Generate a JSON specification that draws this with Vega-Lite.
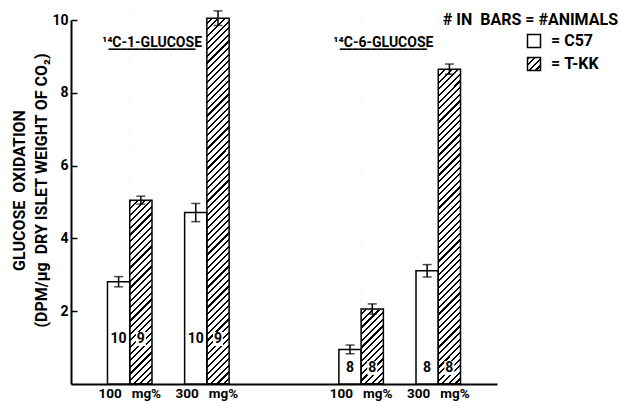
{
  "$schema": "https://vega.github.io/schema/vega-lite/v6.json",
  "width": 426,
  "height": 364,
  "autosize": {"type": "none"},
  "padding": {"left": 71, "top": 20, "right": 124, "bottom": 19},
  "background": "white",
  "params": [
    {"name": "legendHatch", "value": {"gradient": "linear", "x1": 0, "y1": 0, "x2": 1, "y2": 1, "stops": [
      {"offset":0,"color":"#000"},{"offset":0.085,"color":"#000"},{"offset":0.085,"color":"#fff"},
      {"offset":0.254,"color":"#fff"},{"offset":0.254,"color":"#000"},{"offset":0.339,"color":"#000"},{"offset":0.339,"color":"#fff"},
      {"offset":0.508,"color":"#fff"},{"offset":0.508,"color":"#000"},{"offset":0.593,"color":"#000"},{"offset":0.593,"color":"#fff"},
      {"offset":0.762,"color":"#fff"},{"offset":0.762,"color":"#000"},{"offset":0.847,"color":"#000"},{"offset":0.847,"color":"#fff"},
      {"offset":1,"color":"#fff"}
    ]}}
  ],
  "config": {
    "view": {"stroke": null},
    "font": "Roboto, Liberation Sans, sans-serif",
    "axisX": {"domainColor": "black", "domainWidth": 2, "ticks": false, "labelPadding": 2, "labelFontSize": 13.5, "labelFontWeight": "bold", "labelColor": "black", "labelAngle": 0, "grid": false},
    "axisY": {"domainColor": "black", "domainWidth": 2, "tickColor": "black", "tickSize": -6, "tickWidth": 1.5, "labelPadding": 9, "labelFontSize": 14, "labelFontWeight": "bold", "labelColor": "black", "grid": false, "titleFontSize": 16, "titleFontWeight": "bold", "titleColor": "black", "titleLineHeight": 22, "titlePadding": 2}
  },
  "title": {"text": "#\u00a0IN\u00a0\u00a0BARS\u00a0=\u00a0#ANIMALS", "frame": "group", "anchor": "end", "dx": 121, "offset": -19, "fontSize": 16, "fontWeight": "bold", "color": "black"},
  "data": {"values": [
    {"group": "C1", "cond": "C1-100", "strain": "C57", "value": 2.81, "err": 0.14, "n": 10},
    {"group": "C1", "cond": "C1-100", "strain": "T-KK", "value": 5.05, "err": 0.11, "n": 9},
    {"group": "C1", "cond": "C1-300", "strain": "C57", "value": 4.71, "err": 0.25, "n": 10},
    {"group": "C1", "cond": "C1-300", "strain": "T-KK", "value": 10.05, "err": 0.2, "n": 9},
    {"group": "C6", "cond": "C6-100", "strain": "C57", "value": 0.95, "err": 0.12, "n": 8},
    {"group": "C6", "cond": "C6-100", "strain": "T-KK", "value": 2.06, "err": 0.14, "n": 8},
    {"group": "C6", "cond": "C6-300", "strain": "C57", "value": 3.11, "err": 0.17, "n": 8},
    {"group": "C6", "cond": "C6-300", "strain": "T-KK", "value": 8.65, "err": 0.14, "n": 8}
  ]},
  "transform": [
    {"calculate": "datum.value - datum.err", "as": "lo"},
    {"calculate": "datum.value + datum.err", "as": "hi"},
    {"calculate": "datum.group == 'C1' ? 1.236 : 0.44", "as": "ly"}
  ],
  "layer": [
    {
      "transform": [{"filter": "datum.strain == 'T-KK'"}],
      "mark": {"type": "bar", "strokeWidth": 0, "fill": {"gradient": "linear", "x1": 0, "y1": 0, "x2": 0.0627, "y2": 1.0557, "stops": [
        {"offset":0,"color":"#000"},{"offset":0.0055,"color":"#000"},{"offset":0.0055,"color":"#fff"},
        {"offset":0.0167,"color":"#fff"},{"offset":0.0167,"color":"#000"},{"offset":0.0222,"color":"#000"},{"offset":0.0222,"color":"#fff"},
        {"offset":0.0333,"color":"#fff"},{"offset":0.0333,"color":"#000"},{"offset":0.0388,"color":"#000"},{"offset":0.0388,"color":"#fff"},
        {"offset":0.05,"color":"#fff"},{"offset":0.05,"color":"#000"},{"offset":0.0555,"color":"#000"},{"offset":0.0555,"color":"#fff"},
        {"offset":0.0667,"color":"#fff"},{"offset":0.0667,"color":"#000"},{"offset":0.0722,"color":"#000"},{"offset":0.0722,"color":"#fff"},
        {"offset":0.0833,"color":"#fff"},{"offset":0.0833,"color":"#000"},{"offset":0.0888,"color":"#000"},{"offset":0.0888,"color":"#fff"},
        {"offset":0.1,"color":"#fff"},{"offset":0.1,"color":"#000"},{"offset":0.1055,"color":"#000"},{"offset":0.1055,"color":"#fff"},
        {"offset":0.1167,"color":"#fff"},{"offset":0.1167,"color":"#000"},{"offset":0.1222,"color":"#000"},{"offset":0.1222,"color":"#fff"},
        {"offset":0.1333,"color":"#fff"},{"offset":0.1333,"color":"#000"},{"offset":0.1388,"color":"#000"},{"offset":0.1388,"color":"#fff"},
        {"offset":0.15,"color":"#fff"},{"offset":0.15,"color":"#000"},{"offset":0.1555,"color":"#000"},{"offset":0.1555,"color":"#fff"},
        {"offset":0.1667,"color":"#fff"},{"offset":0.1667,"color":"#000"},{"offset":0.1722,"color":"#000"},{"offset":0.1722,"color":"#fff"},
        {"offset":0.1833,"color":"#fff"},{"offset":0.1833,"color":"#000"},{"offset":0.1888,"color":"#000"},{"offset":0.1888,"color":"#fff"},
        {"offset":0.2,"color":"#fff"},{"offset":0.2,"color":"#000"},{"offset":0.2055,"color":"#000"},{"offset":0.2055,"color":"#fff"},
        {"offset":0.2167,"color":"#fff"},{"offset":0.2167,"color":"#000"},{"offset":0.2222,"color":"#000"},{"offset":0.2222,"color":"#fff"},
        {"offset":0.2333,"color":"#fff"},{"offset":0.2333,"color":"#000"},{"offset":0.2388,"color":"#000"},{"offset":0.2388,"color":"#fff"},
        {"offset":0.25,"color":"#fff"},{"offset":0.25,"color":"#000"},{"offset":0.2555,"color":"#000"},{"offset":0.2555,"color":"#fff"},
        {"offset":0.2667,"color":"#fff"},{"offset":0.2667,"color":"#000"},{"offset":0.2722,"color":"#000"},{"offset":0.2722,"color":"#fff"},
        {"offset":0.2833,"color":"#fff"},{"offset":0.2833,"color":"#000"},{"offset":0.2888,"color":"#000"},{"offset":0.2888,"color":"#fff"},
        {"offset":0.3,"color":"#fff"},{"offset":0.3,"color":"#000"},{"offset":0.3055,"color":"#000"},{"offset":0.3055,"color":"#fff"},
        {"offset":0.3167,"color":"#fff"},{"offset":0.3167,"color":"#000"},{"offset":0.3222,"color":"#000"},{"offset":0.3222,"color":"#fff"},
        {"offset":0.3333,"color":"#fff"},{"offset":0.3333,"color":"#000"},{"offset":0.3388,"color":"#000"},{"offset":0.3388,"color":"#fff"},
        {"offset":0.35,"color":"#fff"},{"offset":0.35,"color":"#000"},{"offset":0.3555,"color":"#000"},{"offset":0.3555,"color":"#fff"},
        {"offset":0.3667,"color":"#fff"},{"offset":0.3667,"color":"#000"},{"offset":0.3722,"color":"#000"},{"offset":0.3722,"color":"#fff"},
        {"offset":0.3833,"color":"#fff"},{"offset":0.3833,"color":"#000"},{"offset":0.3888,"color":"#000"},{"offset":0.3888,"color":"#fff"},
        {"offset":0.4,"color":"#fff"},{"offset":0.4,"color":"#000"},{"offset":0.4055,"color":"#000"},{"offset":0.4055,"color":"#fff"},
        {"offset":0.4167,"color":"#fff"},{"offset":0.4167,"color":"#000"},{"offset":0.4222,"color":"#000"},{"offset":0.4222,"color":"#fff"},
        {"offset":0.4333,"color":"#fff"},{"offset":0.4333,"color":"#000"},{"offset":0.4388,"color":"#000"},{"offset":0.4388,"color":"#fff"},
        {"offset":0.45,"color":"#fff"},{"offset":0.45,"color":"#000"},{"offset":0.4555,"color":"#000"},{"offset":0.4555,"color":"#fff"},
        {"offset":0.4667,"color":"#fff"},{"offset":0.4667,"color":"#000"},{"offset":0.4722,"color":"#000"},{"offset":0.4722,"color":"#fff"},
        {"offset":0.4833,"color":"#fff"},{"offset":0.4833,"color":"#000"},{"offset":0.4888,"color":"#000"},{"offset":0.4888,"color":"#fff"},
        {"offset":0.5,"color":"#fff"},{"offset":0.5,"color":"#000"},{"offset":0.5055,"color":"#000"},{"offset":0.5055,"color":"#fff"},
        {"offset":0.5167,"color":"#fff"},{"offset":0.5167,"color":"#000"},{"offset":0.5222,"color":"#000"},{"offset":0.5222,"color":"#fff"},
        {"offset":0.5333,"color":"#fff"},{"offset":0.5333,"color":"#000"},{"offset":0.5388,"color":"#000"},{"offset":0.5388,"color":"#fff"},
        {"offset":0.55,"color":"#fff"},{"offset":0.55,"color":"#000"},{"offset":0.5555,"color":"#000"},{"offset":0.5555,"color":"#fff"},
        {"offset":0.5667,"color":"#fff"},{"offset":0.5667,"color":"#000"},{"offset":0.5722,"color":"#000"},{"offset":0.5722,"color":"#fff"},
        {"offset":0.5833,"color":"#fff"},{"offset":0.5833,"color":"#000"},{"offset":0.5888,"color":"#000"},{"offset":0.5888,"color":"#fff"},
        {"offset":0.6,"color":"#fff"},{"offset":0.6,"color":"#000"},{"offset":0.6055,"color":"#000"},{"offset":0.6055,"color":"#fff"},
        {"offset":0.6167,"color":"#fff"},{"offset":0.6167,"color":"#000"},{"offset":0.6222,"color":"#000"},{"offset":0.6222,"color":"#fff"},
        {"offset":0.6333,"color":"#fff"},{"offset":0.6333,"color":"#000"},{"offset":0.6388,"color":"#000"},{"offset":0.6388,"color":"#fff"},
        {"offset":0.65,"color":"#fff"},{"offset":0.65,"color":"#000"},{"offset":0.6555,"color":"#000"},{"offset":0.6555,"color":"#fff"},
        {"offset":0.6667,"color":"#fff"},{"offset":0.6667,"color":"#000"},{"offset":0.6722,"color":"#000"},{"offset":0.6722,"color":"#fff"},
        {"offset":0.6833,"color":"#fff"},{"offset":0.6833,"color":"#000"},{"offset":0.6888,"color":"#000"},{"offset":0.6888,"color":"#fff"},
        {"offset":0.7,"color":"#fff"},{"offset":0.7,"color":"#000"},{"offset":0.7055,"color":"#000"},{"offset":0.7055,"color":"#fff"},
        {"offset":0.7167,"color":"#fff"},{"offset":0.7167,"color":"#000"},{"offset":0.7222,"color":"#000"},{"offset":0.7222,"color":"#fff"},
        {"offset":0.7333,"color":"#fff"},{"offset":0.7333,"color":"#000"},{"offset":0.7388,"color":"#000"},{"offset":0.7388,"color":"#fff"},
        {"offset":0.75,"color":"#fff"},{"offset":0.75,"color":"#000"},{"offset":0.7555,"color":"#000"},{"offset":0.7555,"color":"#fff"},
        {"offset":0.7667,"color":"#fff"},{"offset":0.7667,"color":"#000"},{"offset":0.7722,"color":"#000"},{"offset":0.7722,"color":"#fff"},
        {"offset":0.7833,"color":"#fff"},{"offset":0.7833,"color":"#000"},{"offset":0.7888,"color":"#000"},{"offset":0.7888,"color":"#fff"},
        {"offset":0.8,"color":"#fff"},{"offset":0.8,"color":"#000"},{"offset":0.8055,"color":"#000"},{"offset":0.8055,"color":"#fff"},
        {"offset":0.8167,"color":"#fff"},{"offset":0.8167,"color":"#000"},{"offset":0.8222,"color":"#000"},{"offset":0.8222,"color":"#fff"},
        {"offset":0.8333,"color":"#fff"},{"offset":0.8333,"color":"#000"},{"offset":0.8388,"color":"#000"},{"offset":0.8388,"color":"#fff"},
        {"offset":0.85,"color":"#fff"},{"offset":0.85,"color":"#000"},{"offset":0.8555,"color":"#000"},{"offset":0.8555,"color":"#fff"},
        {"offset":0.8667,"color":"#fff"},{"offset":0.8667,"color":"#000"},{"offset":0.8722,"color":"#000"},{"offset":0.8722,"color":"#fff"},
        {"offset":0.8833,"color":"#fff"},{"offset":0.8833,"color":"#000"},{"offset":0.8888,"color":"#000"},{"offset":0.8888,"color":"#fff"},
        {"offset":0.9,"color":"#fff"},{"offset":0.9,"color":"#000"},{"offset":0.9055,"color":"#000"},{"offset":0.9055,"color":"#fff"},
        {"offset":0.9167,"color":"#fff"},{"offset":0.9167,"color":"#000"},{"offset":0.9222,"color":"#000"},{"offset":0.9222,"color":"#fff"},
        {"offset":0.9333,"color":"#fff"},{"offset":0.9333,"color":"#000"},{"offset":0.9388,"color":"#000"},{"offset":0.9388,"color":"#fff"},
        {"offset":0.95,"color":"#fff"},{"offset":0.95,"color":"#000"},{"offset":0.9555,"color":"#000"},{"offset":0.9555,"color":"#fff"},
        {"offset":0.9667,"color":"#fff"},{"offset":0.9667,"color":"#000"},{"offset":0.9722,"color":"#000"},{"offset":0.9722,"color":"#fff"},
        {"offset":0.9833,"color":"#fff"},{"offset":0.9833,"color":"#000"},{"offset":0.9888,"color":"#000"},{"offset":0.9888,"color":"#fff"},
        {"offset":1,"color":"#fff"}
      ]}},
      "encoding": {
        "x": {"field": "cond", "type": "nominal", "scale": {"domain": ["C1-100", "C1-300", "gap", "C6-100", "C6-300"], "paddingInner": 0.423, "paddingOuter": 0.473}},
        "xOffset": {"field": "strain", "type": "nominal", "scale": {"domain": ["C57", "T-KK"], "paddingInner": 0, "paddingOuter": 0}},
        "y": {"datum": 10.3, "type": "quantitative", "scale": {"domain": [0, 10], "nice": false}},
        "y2": {"datum": 0}
      }
    },
    {
      "transform": [{"filter": "datum.strain == 'T-KK'"}],
      "mark": {"type": "bar", "fill": "white", "stroke": "white", "strokeWidth": 1},
      "encoding": {
        "x": {"field": "cond", "type": "nominal", "scale": {"domain": ["C1-100", "C1-300", "gap", "C6-100", "C6-300"], "paddingInner": 0.423, "paddingOuter": 0.473}},
        "xOffset": {"field": "strain", "type": "nominal", "scale": {"domain": ["C57", "T-KK"], "paddingInner": 0, "paddingOuter": 0}},
        "y": {"field": "value", "type": "quantitative", "stack": null, "scale": {"domain": [0, 10], "nice": false}},
        "y2": {"datum": 10.3}
      }
    },
    {
      "mark": {"type": "bar", "stroke": "black", "strokeWidth": 1.5},
      "encoding": {
        "x": {"field": "cond", "type": "nominal", "scale": {"domain": ["C1-100", "C1-300", "gap", "C6-100", "C6-300"], "paddingInner": 0.423, "paddingOuter": 0.473}},
        "xOffset": {"field": "strain", "type": "nominal", "scale": {"domain": ["C57", "T-KK"], "paddingInner": 0, "paddingOuter": 0}},
        "y": {"datum": 0, "type": "quantitative", "scale": {"domain": [0, 10], "nice": false}},
        "y2": {"datum": 0},
        "fill": {"field": "strain", "type": "nominal", "scale": {"domain": ["C57", "T-KK"], "range": ["white", {"expr": "legendHatch"}]},
                 "legend": {"orient": "none", "legendX": 455, "legendY": 13, "title": null, "symbolType": "square", "symbolSize": 169,
                            "symbolStrokeColor": "black", "symbolStrokeWidth": 1.5,
                            "labelFontSize": 16, "labelFontWeight": "bold", "labelColor": "black", "labelOffset": 9, "rowPadding": 3, "padding": 0,
                            "labelExpr": "'=\u00a0' + datum.label"}}
      }
    },
    {
      "mark": {"type": "bar", "stroke": "black", "strokeWidth": 1.5},
      "encoding": {
        "x": {"field": "cond", "type": "nominal", "title": null, "scale": {"domain": ["C1-100", "C1-300", "gap", "C6-100", "C6-300"], "paddingInner": 0.423, "paddingOuter": 0.473},
              "axis": {"labelOverlap": false, "labelExpr": "datum.value == 'gap' ? '' : slice(datum.value, 3) + '\u00a0\u00a0\u00a0mg%'"}},
        "xOffset": {"field": "strain", "type": "nominal", "scale": {"domain": ["C57", "T-KK"], "paddingInner": 0, "paddingOuter": 0}},
        "y": {"field": "value", "type": "quantitative", "stack": null, "scale": {"domain": [0, 10], "nice": false},
              "title": ["GLUCOSE\u00a0\u00a0OXIDATION", "(DPM/µg\u00a0\u00a0DRY\u00a0ISLET\u00a0WEIGHT\u00a0OF\u00a0CO₂)"],
              "axis": {"values": [2, 4, 6, 8, 10], "titleY": 170}},
        "fill": {"condition": {"test": "datum.strain === 'C57'", "value": "white"}, "value": "transparent"}
      }
    },
    {
      "transform": [{"filter": "datum.strain == 'T-KK'"}],
      "mark": {"type": "point", "shape": "M-0.5,-0.7L0.5,-0.7L0.5,0.7L-0.5,0.7Z", "size": 400, "filled": true, "fill": "white", "strokeWidth": 0, "opacity": 1},
      "encoding": {
        "x": {"field": "cond", "type": "nominal", "scale": {"domain": ["C1-100", "C1-300", "gap", "C6-100", "C6-300"], "paddingInner": 0.423, "paddingOuter": 0.473}},
        "xOffset": {"field": "strain", "type": "nominal", "scale": {"domain": ["C57", "T-KK"], "paddingInner": 0, "paddingOuter": 0}},
        "y": {"field": "ly", "type": "quantitative", "scale": {"domain": [0, 10], "nice": false}}
      }
    },
    {
      "mark": {"type": "text", "fontSize": 14, "fontWeight": "bold", "color": "black", "baseline": "middle", "align": "center"},
      "encoding": {
        "x": {"field": "cond", "type": "nominal", "scale": {"domain": ["C1-100", "C1-300", "gap", "C6-100", "C6-300"], "paddingInner": 0.423, "paddingOuter": 0.473}},
        "xOffset": {"field": "strain", "type": "nominal", "scale": {"domain": ["C57", "T-KK"], "paddingInner": 0, "paddingOuter": 0}},
        "y": {"field": "ly", "type": "quantitative", "scale": {"domain": [0, 10], "nice": false}},
        "text": {"field": "n", "type": "quantitative"}
      }
    },
    {
      "mark": {"type": "rule", "color": "black", "strokeWidth": 1.5},
      "encoding": {
        "x": {"field": "cond", "type": "nominal", "scale": {"domain": ["C1-100", "C1-300", "gap", "C6-100", "C6-300"], "paddingInner": 0.423, "paddingOuter": 0.473}},
        "xOffset": {"field": "strain", "type": "nominal", "scale": {"domain": ["C57", "T-KK"], "paddingInner": 0, "paddingOuter": 0}},
        "y": {"field": "lo", "type": "quantitative", "scale": {"domain": [0, 10], "nice": false}},
        "y2": {"field": "hi"}
      }
    },
    {
      "mark": {"type": "tick", "orient": "horizontal", "color": "black", "size": 9, "thickness": 1.5},
      "encoding": {
        "x": {"field": "cond", "type": "nominal", "scale": {"domain": ["C1-100", "C1-300", "gap", "C6-100", "C6-300"], "paddingInner": 0.423, "paddingOuter": 0.473}},
        "xOffset": {"field": "strain", "type": "nominal", "scale": {"domain": ["C57", "T-KK"], "paddingInner": 0, "paddingOuter": 0}},
        "y": {"field": "lo", "type": "quantitative", "scale": {"domain": [0, 10], "nice": false}}
      }
    },
    {
      "mark": {"type": "tick", "orient": "horizontal", "color": "black", "size": 9, "thickness": 1.5},
      "encoding": {
        "x": {"field": "cond", "type": "nominal", "scale": {"domain": ["C1-100", "C1-300", "gap", "C6-100", "C6-300"], "paddingInner": 0.423, "paddingOuter": 0.473}},
        "xOffset": {"field": "strain", "type": "nominal", "scale": {"domain": ["C57", "T-KK"], "paddingInner": 0, "paddingOuter": 0}},
        "y": {"field": "hi", "type": "quantitative", "scale": {"domain": [0, 10], "nice": false}}
      }
    },
    {
      "data": {"values": [
        {"cond": "C1-100", "label": "¹⁴C-1-GLUCOSE"},
        {"cond": "C6-100", "label": "¹⁴C-6-GLUCOSE"}
      ]},
      "transform": [{"calculate": "[datum.label, '______________']", "as": "lines"}],
      "mark": {"type": "text", "fontSize": 14, "fontWeight": "bold", "color": "black", "baseline": "alphabetic", "align": "center", "lineHeight": 1},
      "encoding": {
        "x": {"field": "cond", "type": "nominal", "bandPosition": 1, "scale": {"domain": ["C1-100", "C1-300", "gap", "C6-100", "C6-300"], "paddingInner": 0.423, "paddingOuter": 0.473}},
        "y": {"datum": 9.26, "type": "quantitative", "scale": {"domain": [0, 10], "nice": false}},
        "text": {"field": "lines"}
      }
    }
  ]
}
